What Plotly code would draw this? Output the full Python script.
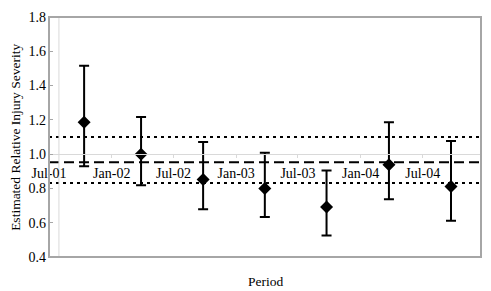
import plotly.graph_objects as go

# ---- data ----
period_dates = ["2001-10-12", "2002-03-28", "2002-09-26", "2003-03-26",
                "2003-09-23", "2004-03-24", "2004-09-22"]
severity = [1.186, 1.000, 0.852, 0.800, 0.691, 0.938, 0.811]
ci_upper = [1.515, 1.217, 1.071, 1.008, 0.905, 1.186, 1.077]
ci_lower = [0.930, 0.819, 0.679, 0.634, 0.526, 0.737, 0.612]

overall_mean = 0.953
overall_upper = 1.100
overall_lower = 0.832

tick_dates = ["2001-07-01", "2002-01-01", "2002-07-01", "2003-01-01",
              "2003-07-01", "2004-01-01", "2004-07-01"]
tick_labels = ["Jul-01", "Jan-02", "Jul-02", "Jan-03", "Jul-03", "Jan-04", "Jul-04"]
x_range = ["2001-07-01", "2004-12-19"]
y_range = [0.4, 1.8]

FONT = "Liberation Serif"

err_plus = [u - v for u, v in zip(ci_upper, severity)]
err_minus = [v - l for v, l in zip(severity, ci_lower)]

fig = go.Figure()
fig.add_trace(go.Scatter(
    x=period_dates, y=severity, mode="markers",
    marker=dict(symbol="diamond", size=10, color="black"),
    error_y=dict(type="data", symmetric=False, array=err_plus,
                 arrayminus=err_minus, color="black", thickness=2, width=5),
    showlegend=False, cliponaxis=False, hoverinfo="skip",
))

shapes = [
    dict(type="line", xref="paper", x0=0, x1=1, yref="y", y0=overall_upper, y1=overall_upper,
         line=dict(color="black", width=2, dash="3px,4px"), layer="below"),
    dict(type="line", xref="paper", x0=0, x1=1, yref="y", y0=overall_lower, y1=overall_lower,
         line=dict(color="black", width=2, dash="3px,4px"), layer="below"),
    dict(type="line", xref="paper", x0=0, x1=1, yref="y", y0=overall_mean, y1=overall_mean,
         line=dict(color="black", width=2, dash="10px,5px"), layer="below"),
    dict(type="line", xref="paper", x0=0.023, x1=0.023, yref="paper", y0=0, y1=1,
         line=dict(color="#d9d9d9", width=1), layer="below"),
    dict(type="rect", xref="paper", x0=0, x1=1, yref="paper", y0=0, y1=1,
         line=dict(color="#a6a6a6", width=2), layer="above"),
]

fig.update_layout(
    width=491, height=291,
    margin=dict(l=49, r=10, t=13, b=34),
    paper_bgcolor="white", plot_bgcolor="white",
    font=dict(family=FONT, size=14, color="black"),
    shapes=shapes,
    xaxis=dict(
        type="date", range=x_range,
        tickvals=tick_dates, ticktext=tick_labels,
        showgrid=False, zeroline=False,
        showline=True, linecolor="#d9d9d9", linewidth=1,
        ticks="outside", ticklen=3, tickcolor="#d9d9d9",
        anchor="free", position=(1.0 - y_range[0]) / (y_range[1] - y_range[0]),
        ticklabelstandoff=3,
        tickfont=dict(family=FONT, size=14, color="black"),
    ),
    yaxis=dict(
        range=y_range, dtick=0.2, tick0=0.4, tickformat=".1f",
        showgrid=False, zeroline=False,
        showline=False, ticks="inside", ticklen=4, tickcolor="#a6a6a6",
        ticklabelstandoff=2,
        tickfont=dict(family=FONT, size=14, color="black"),
    ),
    annotations=[
        dict(text="Estimated Relative Injury Severity", xref="paper", yref="paper",
             x=-0.079, y=0.5, textangle=-90, showarrow=False,
             xanchor="center", yanchor="middle",
             font=dict(family=FONT, size=13.5, color="black")),
        dict(text="Period", xref="paper", yref="paper", x=0.5, y=-0.103,
             showarrow=False, xanchor="center", yanchor="middle",
             font=dict(family=FONT, size=13.5, color="black")),
    ],
)

fig.write_html("out.html", config={"displayModeBar": False},
               post_script="document.body.style.margin='0';")
